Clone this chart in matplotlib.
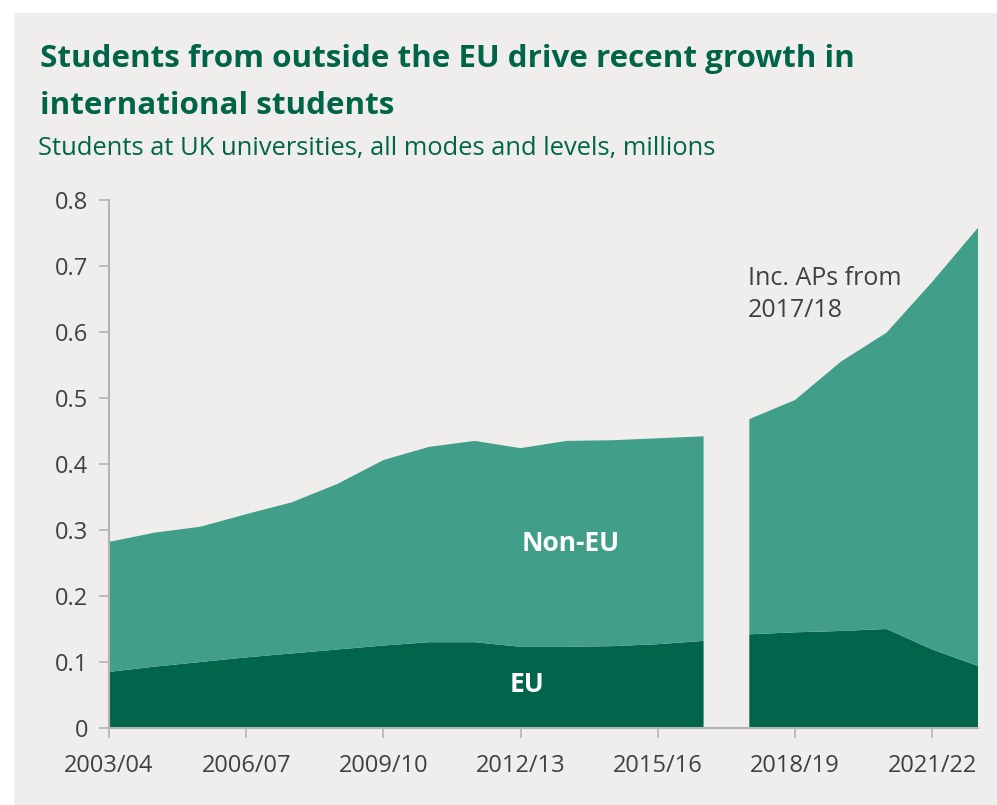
import numpy as np
import matplotlib
matplotlib.use("Agg")
import matplotlib.pyplot as plt
from matplotlib.patches import Rectangle

# academic years, 2003/04 .. 2022/23
years = ["2003/04", "2004/05", "2005/06", "2006/07", "2007/08", "2008/09",
         "2009/10", "2010/11", "2011/12", "2012/13", "2013/14", "2014/15",
         "2015/16", "2016/17", "2017/18", "2018/19", "2019/20", "2020/21",
         "2021/22", "2022/23"]
# millions of students
eu = [0.085, 0.093, 0.100, 0.107, 0.113, 0.119, 0.125, 0.130, 0.130, 0.123,
      0.123, 0.124, 0.127, 0.132, 0.142, 0.145, 0.147, 0.150, 0.119, 0.094]
non_eu = [0.197, 0.203, 0.205, 0.217, 0.229, 0.251, 0.281, 0.296, 0.305, 0.301,
          0.312, 0.312, 0.312, 0.310, 0.326, 0.352, 0.408, 0.449, 0.557, 0.664]
# series break: APs included from this year on
break_year = "2017/18"
tick_years = ["2003/04", "2006/07", "2009/10", "2012/13", "2015/16", "2018/19", "2021/22"]
y_ticks = [0, 0.1, 0.2, 0.3, 0.4, 0.5, 0.6, 0.7, 0.8]

bg = "#efeeec"
dark_green = "#00654a"
teal = "#409e89"
title_green = "#006548"
grey_text = "#404040"
axis_grey = "#b4b4b4"

W, H = 997, 805
fig = plt.figure(figsize=(W / 100, H / 100), dpi=100)
fig.patch.set_facecolor("white")
fig.patches.append(Rectangle((14 / W, 0), 1 - 14 / W, 1 - 13 / H,
                             transform=fig.transFigure, facecolor=bg,
                             edgecolor="none", zorder=-10))

fig.text(40 / W, 1 - 59 / H, "Students from outside the EU drive recent growth in",
         fontsize=22.6, fontweight="bold", family="Open Sans", color=title_green, va="center")
fig.text(40 / W, 1 - 106 / H, "international students",
         fontsize=22.6, fontweight="bold", family="Open Sans", color=title_green, va="center")
fig.text(38 / W, 1 - 149 / H, "Students at UK universities, all modes and levels, millions",
         fontsize=18.4, family="Open Sans", color=title_green, va="center")

ax = fig.add_axes([109 / W, (H - 728) / H, (978 - 109) / W, (728 - 200) / H])
ax.set_facecolor("none")

x = np.arange(len(years))
b = years.index(break_year)
for sl in (slice(0, b), slice(b, len(years))):
    ax.stackplot(x[sl], np.array(eu)[sl], np.array(non_eu)[sl],
                 colors=[dark_green, teal], linewidth=0)

ax.set_xlim(0, len(years) - 1)
ax.set_ylim(0, 0.8)
ax.set_yticks(y_ticks)
ax.set_yticklabels(["0"] + ["%.1f" % v for v in y_ticks[1:]])
ax.set_xticks([years.index(t) for t in tick_years])
ax.set_xticklabels(tick_years)
for s in ("top", "right"):
    ax.spines[s].set_visible(False)
for s in ("left", "bottom"):
    ax.spines[s].set_color(axis_grey)
    ax.spines[s].set_linewidth(1.5)
ax.tick_params(axis="both", colors=axis_grey, length=7, width=1.2,
               labelcolor=grey_text, labelsize=17)
ax.tick_params(axis="x", pad=12)
ax.tick_params(axis="y", pad=8)
for lab in ax.get_xticklabels() + ax.get_yticklabels():
    lab.set_family("Open Sans")

ax.text(10.1, 0.28, "Non-EU", color="white", fontsize=19, fontweight="bold",
        family="Open Sans", ha="center", va="center")
ax.text(9.15, 0.066, "EU", color="white", fontsize=19, fontweight="bold",
        family="Open Sans", ha="center", va="center")
ax.text(13.97, 0.70, "Inc. APs from\n2017/18", color=grey_text, fontsize=18,
        family="Open Sans", ha="left", va="top", linespacing=1.35)

fig.savefig("out.png", dpi=100)
